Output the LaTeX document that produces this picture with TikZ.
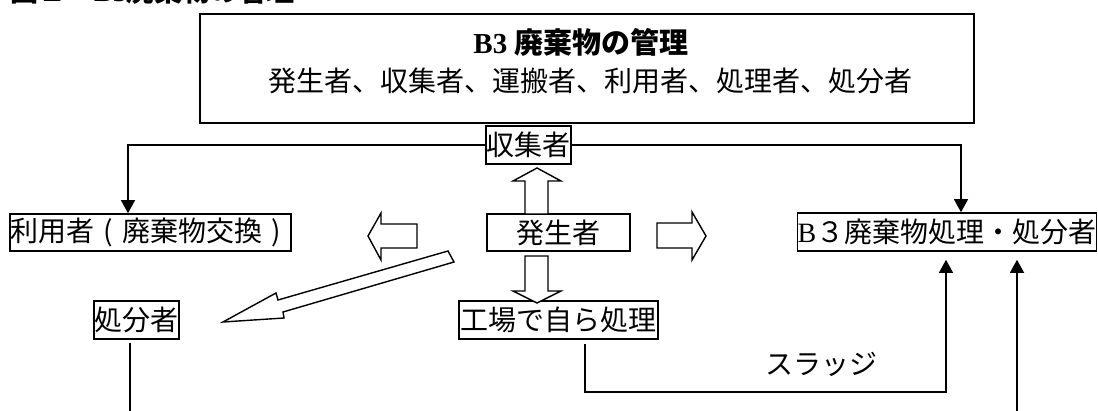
\documentclass[tikz,border=0pt]{standalone}
\usepackage{fontspec}
\setmainfont{Liberation Serif}
\newfontfamily\jp{Noto Sans CJK JP}
\newcommand\jpB{\jp\bfseries}
\newcommand\cparen[1]{\makebox[28pt][c]{#1}}
\usetikzlibrary{arrows.meta}
\begin{document}
\begin{tikzpicture}[x=1pt,y=-1pt,
  txt/.style={inner sep=0pt,font=\jp\fontsize{28}{30}\selectfont},
  box/.style={txt,draw,line width=1.6pt,minimum height=38pt},
  conn/.style={line width=1.2pt},
  tip/.style={-{Triangle[length=13pt,width=14pt]}},
  blockarrow/.style={draw,line width=1.4pt,fill=white,line join=miter}]
\useasboundingbox (0,0) rectangle (1098,411);
% cut-off title
\node[anchor=base west,inner sep=0pt,font=\bfseries\fontsize{28}{30}\selectfont] (fig) at (10,1.5) {{\jpB 図１　}B3{\jpB 廃棄物の管理}};
% main box
\node[draw,line width=1.6pt,minimum width=774pt,minimum height=109pt,inner sep=0pt] (main) at (587,68.5) {};
\node[inner sep=0pt,font=\bfseries\fontsize{29}{30}\selectfont] (t1) at (581,42) {B3 {\jpB 廃棄物の管理}};
\node[txt] (t2) at (590,81) {発生者、収集者、運搬者、利用者、処理者、処分者};
% boxes
\node[box,minimum width=85pt] (col) at (528.5,145) {収集者};
\node[box,minimum width=281pt,minimum height=37pt] (user) at (150.5,232.5) {利用者\cparen{(}廃棄物交換\cparen{)}};
\node[box,minimum width=143pt,minimum height=37pt] (gen) at (558.5,232.5) {発生者};
\node[box,minimum width=298pt] (b3) at (947,232) {{\rmfamily B}３廃棄物処理・処分者};
\node[box,minimum width=85pt] (disp) at (136.5,320) {処分者};
\node[box,minimum width=199pt] (self) at (558.5,320) {工場で自ら処理};
\node[txt] (sludge) at (821,364) {スラッジ};
% helper coordinates
\coordinate (ul) at (128,0);
\coordinate (ur) at (961,0);
\coordinate (sl) at (585,0);
\coordinate (sr) at (946,392);
\coordinate (dl) at (130,415);
\coordinate (rb) at (1017,415);
% connectors
\draw[conn,tip] (col.west) -| (user.north -| ul);
\draw[conn,tip] (col.east) -| (b3.north -| ur);
\draw[conn,tip] ([yshift=-4pt]self.south -| sl) |- (sr) -- ([yshift=-8pt]b3.south -| sr);
\draw[conn] ([yshift=-3pt]disp.south -| dl) -- (dl);
\draw[conn,tip] (rb) -- ([yshift=-8pt]b3.south -| rb);
% block arrows
\draw[blockarrow] (525,214) -- (525,181) -- (513,181) -- (537,168) -- (561,181) -- (548,181) -- (548,214) -- cycle;
\draw[blockarrow] (525,256) -- (525,291) -- (513,291) -- (537,303) -- (561,291) -- (548,291) -- (548,256) -- cycle;
\draw[blockarrow] (417,224) -- (381,224) -- (381,213) -- (368,236) -- (381,260) -- (381,248) -- (417,248) -- cycle;
\draw[blockarrow] (657,223) -- (692,223) -- (692,212) -- (706,236) -- (692,260) -- (692,248) -- (657,248) -- cycle;
\draw[blockarrow] (448,251) -- (278,300) -- (276,293) -- (223,322) -- (284,318) -- (283,312) -- (454,262) -- cycle;
\end{tikzpicture}
\end{document}
